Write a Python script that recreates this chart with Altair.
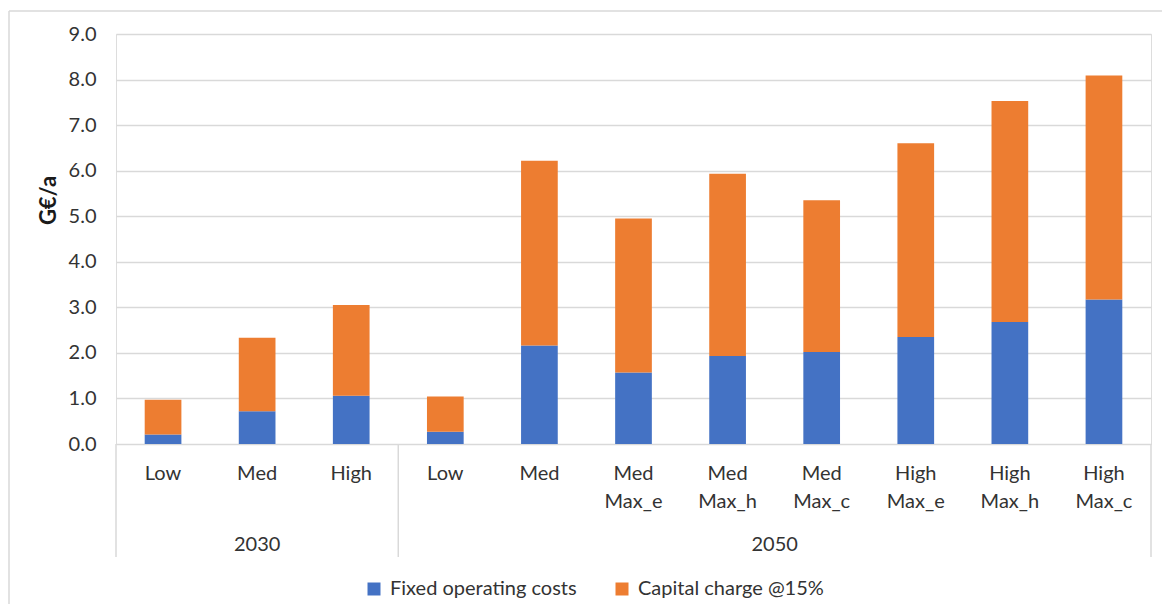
import altair as alt
import pandas as pd

# ---- data ----
years = ["2030", "2030", "2030", "2050", "2050", "2050", "2050", "2050", "2050", "2050", "2050"]
line1 = ["Low", "Med", "High", "Low", "Med", "Med", "Med", "Med", "High", "High", "High"]
line2 = ["", "", "", "", "", "Max_e", "Max_h", "Max_c", "Max_e", "Max_h", "Max_c"]
fixed_costs = [0.21, 0.72, 1.06, 0.27, 2.16, 1.57, 1.93, 2.02, 2.35, 2.68, 3.17]
capital_charge = [0.76, 1.61, 1.99, 0.77, 4.06, 3.38, 4.00, 3.33, 4.25, 4.85, 4.92]
series_names = ["Fixed operating costs", "Capital charge @15%"]
series_colors = ["#4472C4", "#ED7D31"]
y_ticks = [0, 1, 2, 3, 4, 5, 6, 7, 8, 9]

keys = [f"{y}|{a}|{b}" for y, a, b in zip(years, line1, line2)]

rows = []
for k, f, c in zip(keys, fixed_costs, capital_charge):
    rows.append({"key": k, "series": series_names[0], "value": f, "ord": 0})
    rows.append({"key": k, "series": series_names[1], "value": c, "ord": 1})
bars_df = pd.DataFrame(rows)

labels_df = pd.DataFrame({"key": keys, "l1": line1, "l2": line2})

W, H = 1035, 410
FONT = "Lato"
FS = 20
TXT = "#333333"
GRID = "#D9D9D9"

xscale = alt.Scale(domain=keys, paddingInner=0, paddingOuter=0)
xenc_kwargs = dict(sort=keys, scale=xscale, axis=None)

bars = alt.Chart(bars_df).mark_bar(width=alt.RelativeBandSize(0.39)).encode(
    x=alt.X("key:N", sort=keys, scale=xscale,
            axis=alt.Axis(labels=False, ticks=False, title=None, domain=True,
                          domainColor=GRID, domainWidth=1.5, grid=False)),
    y=alt.Y("value:Q", stack="zero",
            scale=alt.Scale(domain=[0, 9], nice=False),
            axis=alt.Axis(values=y_ticks, format=".1f", grid=True, gridColor=GRID,
                          gridWidth=1.5, domain=False, ticks=False, labelPadding=20,
                          labelFontSize=FS, labelFont=FONT, labelColor=TXT,
                          title="G€/a", titleFont=FONT, titleFontSize=22,
                          titleFontWeight="bold", titleColor="#1a1a1a",
                          titleX=-68, titleY=166, titleBaseline="middle",
                          titleAlign="center", titleAngle=270)),
    color=alt.Color("series:N", scale=alt.Scale(domain=series_names, range=series_colors),
                    legend=alt.Legend(title=None, orient="none", legendX=248, legendY=545,
                                      direction="horizontal", symbolType="square",
                                      symbolSize=169, symbolStrokeWidth=0,
                                      labelFontSize=FS, labelFont=FONT, labelColor=TXT,
                                      labelLimit=0, columnPadding=35, labelOffset=6,
                                      padding=0)),
    order=alt.Order("ord:Q", sort="ascending"),
)

lab1 = alt.Chart(labels_df).mark_text(font=FONT, fontSize=FS, color=TXT, baseline="middle").encode(
    x=alt.X("key:N", **xenc_kwargs), y=alt.value(H + 30), text="l1:N")
lab2 = alt.Chart(labels_df).mark_text(font=FONT, fontSize=FS, color=TXT, baseline="middle").encode(
    x=alt.X("key:N", **xenc_kwargs), y=alt.value(H + 58), text="l2:N")

g2030 = alt.Chart(pd.DataFrame({"key": [keys[1]], "t": ["2030"]})).mark_text(
    font=FONT, fontSize=FS, color=TXT, baseline="middle").encode(
    x=alt.X("key:N", **xenc_kwargs), y=alt.value(H + 101), text="t:N")
g2050 = alt.Chart(pd.DataFrame({"key": [keys[6]], "t": ["2050"]})).mark_text(
    font=FONT, fontSize=FS, color=TXT, baseline="middle").encode(
    x=alt.X("key:N", bandPosition=1, **xenc_kwargs), y=alt.value(H + 101), text="t:N")

sep_start = alt.Chart(pd.DataFrame({"key": [keys[0], keys[3]]})).mark_rule(
    color=GRID, strokeWidth=1.5).encode(
    x=alt.X("key:N", bandPosition=0, **xenc_kwargs), y=alt.value(H), y2=alt.value(H + 113))
sep_end = alt.Chart(pd.DataFrame({"key": [keys[-1]]})).mark_rule(
    color=GRID, strokeWidth=1.5).encode(
    x=alt.X("key:N", bandPosition=1, **xenc_kwargs), y=alt.value(H), y2=alt.value(H + 113))

# chart frame (top and left edges visible in the reference)
frame_top = alt.Chart(pd.DataFrame({"a": [0]})).mark_rule(color=GRID, strokeWidth=1.5).encode(
    x=alt.value(-107), x2=alt.value(W + 11), y=alt.value(-23))
frame_left = alt.Chart(pd.DataFrame({"a": [0]})).mark_rule(color=GRID, strokeWidth=1.5).encode(
    x=alt.value(-107), y=alt.value(-23), y2=alt.value(H + 200))

chart = alt.layer(frame_top, frame_left, bars, sep_start, sep_end, lab1, lab2, g2030, g2050).properties(
    width=W, height=H,
    autosize=alt.AutoSizeParams(type="none"),
    padding={"left": 108, "top": 26, "right": 11, "bottom": 160},
).configure_view(stroke=None).configure(background="white")

chart.save("out.html", embed_options={"renderer": "svg", "actions": False})
